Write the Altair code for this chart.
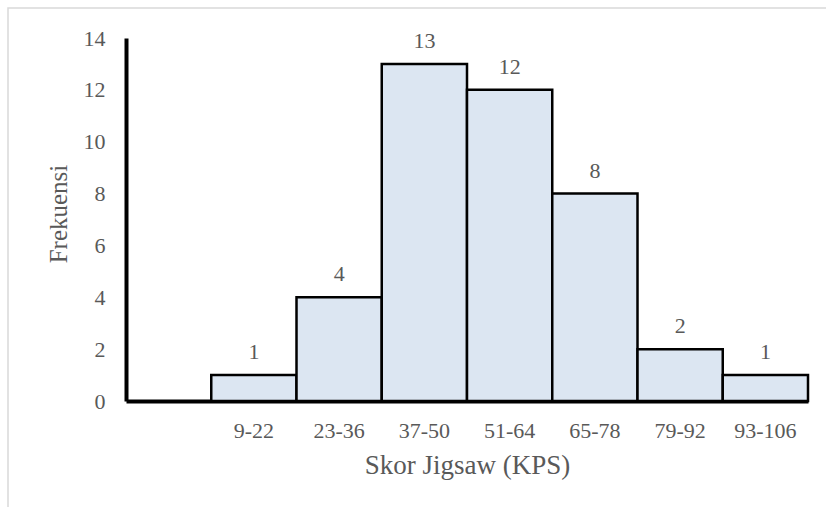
import altair as alt
import pandas as pd

categories = ["9-22", "23-36", "37-50", "51-64", "65-78", "79-92", "93-106"]
frequencies = [1, 4, 13, 12, 8, 2, 1]
x_domain = [" "] + categories
y_ticks = [0, 2, 4, 6, 8, 10, 12, 14]

FONT = "'Liberation Serif', 'Times New Roman', Times, serif"
GRAY = "#595959"

df = pd.DataFrame({"Skor": categories, "Frekuensi": frequencies})

x_enc = alt.X(
    "Skor:N",
    sort=x_domain,
    scale=alt.Scale(domain=x_domain, paddingInner=0, paddingOuter=0),
    axis=alt.Axis(
        title="Skor Jigsaw (KPS)",
        labelAngle=0,
        ticks=False,
        tickSize=0,
        labelPadding=19,
        labelFont=FONT,
        labelFontSize=22,
        labelColor=GRAY,
        domainColor="black",
        domainWidth=4,
        titleFont=FONT,
        titleFontSize=27,
        titleFontWeight="normal",
        titleColor=GRAY,
        titleBaseline="alphabetic",
        titleY=72,
    ),
)
y_enc = alt.Y(
    "Frekuensi:Q",
    scale=alt.Scale(domain=[0, 14], nice=False),
    axis=alt.Axis(
        values=y_ticks,
        grid=False,
        ticks=False,
        tickSize=0,
        labelPadding=21,
        labelFont=FONT,
        labelFontSize=22,
        labelColor=GRAY,
        domainColor="black",
        domainWidth=4,
        title="Frekuensi",
        titleFont=FONT,
        titleFontSize=25,
        titleFontWeight="normal",
        titleColor=GRAY,
        titleBaseline="alphabetic",
        titleX=-60,
        titleY=175.5,
    ),
)

border = alt.Chart(pd.DataFrame({"a": [0]})).mark_rect(
    filled=False, color="#D9D9D9", strokeWidth=1.5
).encode(
    x=alt.value(-118), x2=alt.value(720), y=alt.value(-30), y2=alt.value(490)
)

bars = alt.Chart(df).mark_bar(
    fill="#DCE6F2", stroke="black", strokeWidth=2.5
).encode(x=x_enc, y=y_enc)

labels = alt.Chart(df).mark_text(
    dy=-16, baseline="alphabetic", font=FONT, fontSize=22, color=GRAY
).encode(x=x_enc, y=y_enc, text="Frekuensi:Q")

chart = (
    alt.layer(border, bars, labels)
    .properties(
        width=682,
        height=363,
        autosize=alt.AutoSizeParams(type="none"),
        padding={"left": 126, "top": 38, "right": 18, "bottom": 106},
        background="white",
    )
    .configure_view(strokeWidth=0)
)

chart.save("out.html", embed_options={"renderer": "svg", "actions": False})
